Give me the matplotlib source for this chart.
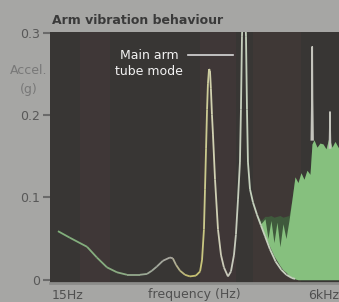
# -*- coding: utf-8 -*-
"""
Arm vibration behaviour : 주파수 응답 (log 주파수 축)
"""

import matplotlib
matplotlib.use('Agg')
import matplotlib.pyplot as plt
import numpy as np
from matplotlib.collections import LineCollection
from matplotlib.colors import LinearSegmentedColormap
from matplotlib.ticker import NullLocator

plt.rcParams['font.family'] = ['DejaVu Sans']

# 1. 차트 자료
curve_hz = [17, 21.8, 31.2, 38.3, 47.3, 58.3, 71.8, 94, 109, 121, 134, 152, 176, 187,
            200, 217, 241, 267, 303, 330, 344, 358, 366, 374, 382, 389, 398, 406, 414,
            423, 432, 451, 480, 511, 543, 591, 629, 670, 698, 729, 759, 775, 792, 826,
            861, 879, 897, 936, 996, 1083, 1177, 1280, 1420, 1600, 1800, 2000, 2250, 2400]
curve_g = [0.059, 0.051, 0.040, 0.027, 0.015, 0.009, 0.006, 0.006, 0.007, 0.011, 0.016,
           0.023, 0.027, 0.026, 0.018, 0.011, 0.006, 0.004, 0.005, 0.010, 0.024, 0.061,
           0.110, 0.159, 0.207, 0.238, 0.256, 0.254, 0.232, 0.201, 0.177, 0.122, 0.061,
           0.030, 0.015, 0.004, 0.010, 0.030, 0.055, 0.098, 0.143, 0.207, 0.296, 0.360,
           0.296, 0.207, 0.143, 0.110, 0.094, 0.079, 0.066, 0.053, 0.037, 0.022, 0.012,
           0.006, 0.002, 0.001]

# 고주파 영역 : 빽빽한 공진 (녹색 영역)
green_hz = [1083, 1177, 1280, 1362, 1450, 1543, 1644, 1749, 1863, 1984, 2112, 2249, 2394,
            2549, 2713, 2888, 3075, 3274, 3413, 3558, 3790, 4034, 4295, 4574, 4868, 5184,
            5519, 6000]
green_low = [0.079, 0.066, 0.053, 0.045, 0.037, 0.029, 0.023, 0.017, 0.012, 0.009, 0.005,
             0.003, 0.001, 0, 0, 0, 0, 0, 0, 0, 0, 0, 0, 0, 0, 0, 0, 0]
green_outer = [0.079, 0.072, 0.077, 0.077, 0.078, 0.076, 0.077, 0.078, 0.076, 0.077, 0.078,
               0.098, 0.125, 0.118, 0.130, 0.122, 0.133, 0.128, 0.165, 0.170, 0.161, 0.166,
               0.165, 0.159, 0.173, 0.161, 0.168, 0.159]
green_high = [0.079, 0.068, 0.074, 0.050, 0.072, 0.045, 0.070, 0.040, 0.068, 0.050, 0.072,
              0.098, 0.125, 0.118, 0.130, 0.122, 0.133, 0.128, 0.165, 0.170, 0.161, 0.166,
              0.165, 0.159, 0.173, 0.161, 0.168, 0.159]

# 튀어나온 공진 피크 2개
spike1_hz = [3370, 3410, 3430, 3450, 3490]
spike1_g = [0.17, 0.22, 0.283, 0.22, 0.17]
spike2_hz = [4900, 4950, 4970, 4990, 5040]
spike2_g = [0.16, 0.19, 0.204, 0.19, 0.16]

yticks = [0, 0.1, 0.2, 0.3]
ytick_labels = ['0', '0.1', '0.2', '0.3']

# 2. 그림 / 축
W, H = 339, 302
fig = plt.figure(figsize=(W / 100, H / 100), dpi=100, facecolor='#a6a6a4')
ax = fig.add_axes([50 / W, 1 - 283 / H, 289 / W, 251 / H])
ax.set_facecolor('#383634')
ax.set_xscale('log')
ax.set_xlim(14.4, 6000)
ax.set_ylim(-0.004, 0.301)

# 배경 색 띠 (은은하게)
for lo, hi, c in [(27, 50, '#5c3e46'), (330, 700, '#5c3e46'), (1000, 2700, '#5e4440')]:
    ax.axvspan(lo, hi, color=c, alpha=0.2, lw=0, zorder=0)

# 녹색 영역
ax.fill_between(green_hz, green_low, green_outer, color='#3f5a3c', lw=0, zorder=1)
ax.fill_between(green_hz, green_low, green_high, color='#86c07e', lw=0, zorder=2)

# 주 곡선 : 주파수에 따라 색이 변함
anchors = [(15, '#7fb07a'), (60, '#8aac82'), (120, '#a0a89a'), (180, '#aaa8a0'),
           (260, '#c4be6c'), (340, '#c8c47a'), (420, '#d2d2b0'), (600, '#c8c8bc'),
           (850, '#c4d0bc'), (6000, '#c8d0c0')]
pos = [np.log(f / 15) / np.log(6000 / 15) for f, _ in anchors]
cmap = LinearSegmentedColormap.from_list('arm', list(zip(pos, [c for _, c in anchors])))
pts = np.column_stack([curve_hz, curve_g])
segs = np.stack([pts[:-1], pts[1:]], axis=1)
mid = np.sqrt(np.array(curve_hz[:-1]) * np.array(curve_hz[1:]))
lc = LineCollection(segs, colors=cmap(np.log(mid / 15) / np.log(6000 / 15)),
                    linewidths=1.3, zorder=3)
ax.add_collection(lc)

ax.plot(spike1_hz, spike1_g, color='#c4c4bc', lw=1.2, zorder=3)
ax.plot(spike2_hz, spike2_g, color='#c4c4bc', lw=1.0, zorder=3)

# 주석
fig.text(149 / W, 1 - 63.5 / H, 'Main arm\ntube mode', ha='center', va='center',
         color='#f2f2f2', fontsize=9, linespacing=1.3)
ax.plot([256, 656], [0.2734, 0.2734], color='#d8d8d8', lw=1.2, zorder=3)

# 축 꾸미기
for s in ['top', 'right', 'left']:
    ax.spines[s].set_visible(False)
ax.spines['bottom'].set_color('#8c8c8a')
ax.spines['bottom'].set_linewidth(2)

ax.set_yticks(yticks, ytick_labels)
ax.tick_params(axis='y', length=5, width=1.5, color='#6a6a6a', labelcolor='#585858',
               labelsize=9, pad=2)
ax.set_xticks([15, 6000], ['15Hz', '6kHz'])
ax.xaxis.set_minor_locator(NullLocator())
ax.tick_params(axis='x', length=0, labelcolor='#505050', labelsize=9, pad=4)
xl = ax.get_xticklabels()
xl[0].set_ha('left')
xl[1].set_ha('right')
ax.text(0.5, -0.02, 'frequency (Hz)', transform=ax.transAxes, ha='center', va='top',
        color='#505050', fontsize=9)

fig.text(29 / W, 1 - 80 / H, 'Accel.\n(g)', ha='center', va='center', color='#787878',
         fontsize=9, linespacing=1.6)
fig.text(52 / W, 1 - 20 / H, 'Arm vibration behaviour', ha='left', va='center',
         color='#3a3a3a', fontsize=9, fontweight='bold')

fig.savefig('out.png', dpi=100, facecolor=fig.get_facecolor())
